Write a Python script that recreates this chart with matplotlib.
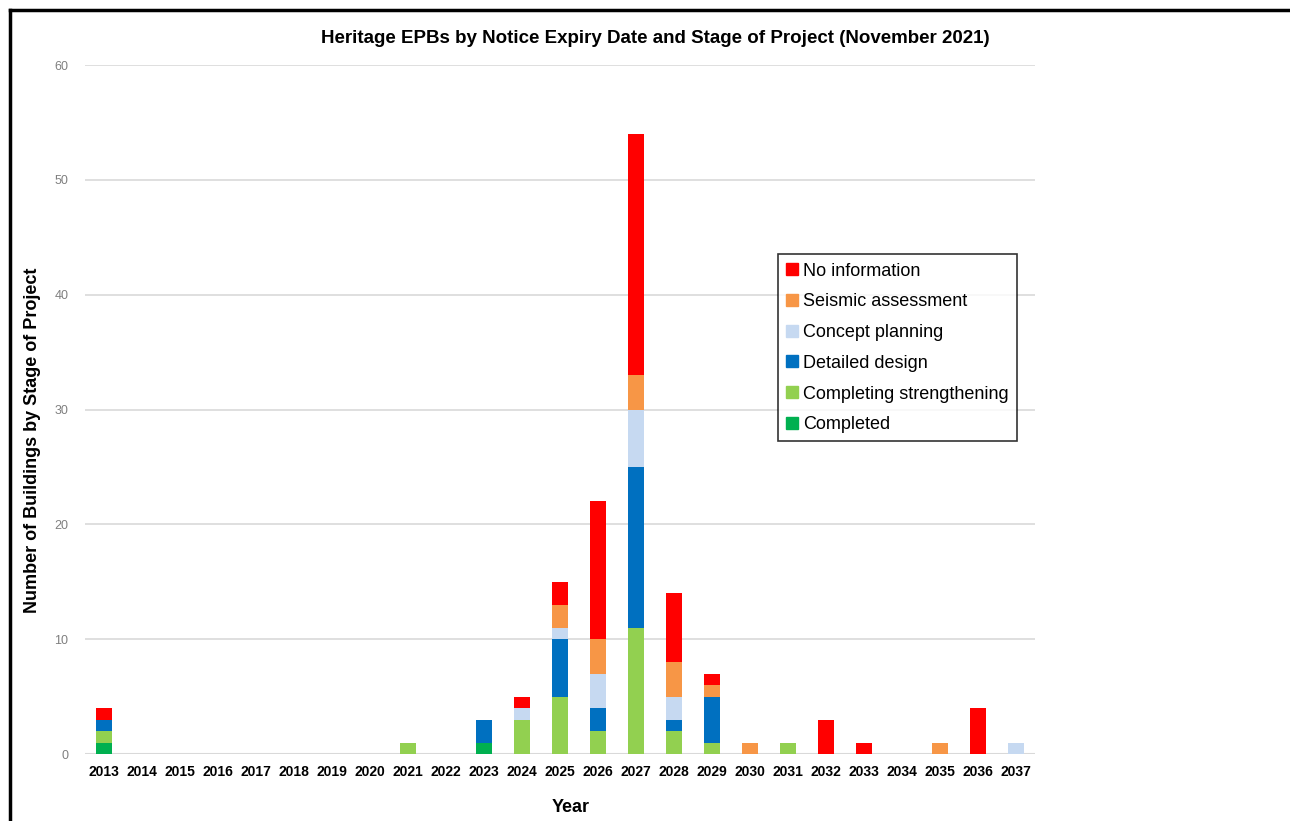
import numpy as np
import matplotlib
matplotlib.use("Agg")
import matplotlib.pyplot as plt
from matplotlib.lines import Line2D

plt.rcParams['font.family'] = ['Liberation Sans', 'DejaVu Sans']

# Data
years = [str(y) for y in range(2013, 2038)]
completed = [1, 0, 0, 0, 0, 0, 0, 0, 0, 0, 1, 0, 0, 0, 0, 0, 0, 0, 0, 0, 0, 0, 0, 0, 0]
completing = [1, 0, 0, 0, 0, 0, 0, 0, 1, 0, 0, 3, 5, 2, 11, 2, 1, 0, 1, 0, 0, 0, 0, 0, 0]
detailed = [1, 0, 0, 0, 0, 0, 0, 0, 0, 0, 2, 0, 5, 2, 14, 1, 4, 0, 0, 0, 0, 0, 0, 0, 0]
concept = [0, 0, 0, 0, 0, 0, 0, 0, 0, 0, 0, 1, 1, 3, 5, 2, 0, 0, 0, 0, 0, 0, 0, 0, 1]
seismic = [0, 0, 0, 0, 0, 0, 0, 0, 0, 0, 0, 0, 2, 3, 3, 3, 1, 1, 0, 0, 0, 0, 1, 0, 0]
no_info = [1, 0, 0, 0, 0, 0, 0, 0, 0, 0, 0, 1, 2, 12, 21, 6, 1, 0, 0, 3, 1, 0, 0, 4, 0]

series = [
    ("Completed", completed, "#00B050"),
    ("Completing strengthening", completing, "#92D050"),
    ("Detailed design", detailed, "#0070C0"),
    ("Concept planning", concept, "#C6D9F1"),
    ("Seismic assessment", seismic, "#F79646"),
    ("No information", no_info, "#FF0000"),
]

fig = plt.figure(figsize=(12.9, 8.21), dpi=100)
ax = fig.add_axes([0.0659, 0.0816, 0.7364, 0.8392])

x = np.arange(len(years))
bottom = np.zeros(len(years))
for name, vals, col in series:
    vals = np.array(vals)
    ax.bar(x, vals, bottom=bottom, width=0.42, color=col, label=name, zorder=3)
    bottom += vals

ax.set_xlim(-0.5, len(years) - 0.5)
ax.set_ylim(0, 60)
ax.set_yticks(range(0, 61, 10))
ax.set_xticks(x)
ax.set_xticklabels(years, fontsize=10, fontweight='bold')
ax.tick_params(axis='y', labelsize=9, colors='#7F7F7F', length=0, pad=12)
ax.tick_params(axis='x', length=0, pad=8)
ax.grid(axis='y', color='#D9D9D9', linewidth=1.2, zorder=0)
for s in ax.spines.values():
    s.set_visible(False)
ax.axhline(0, color='#D9D9D9', linewidth=1.5, zorder=1)

ax.set_title("Heritage EPBs by Notice Expiry Date and Stage of Project (November 2021)",
             fontsize=13.5, fontweight='bold', pad=16, x=0.6)
ax.set_xlabel("Year", fontsize=13, fontweight='bold')
ax.set_ylabel("Number of Buildings by Stage of Project", fontsize=13, fontweight='bold')
ax.xaxis.set_label_coords(0.511, -0.065)
ax.yaxis.set_label_coords(-0.046, 0.456)

handles = [Line2D([], [], marker='s', linestyle='none', markersize=8, color=c)
           for _, _, c in series[::-1]]
labels = [n for n, _, _ in series[::-1]]
leg = ax.legend(handles, labels, loc='upper left', bbox_to_anchor=(0.730, 0.725),
                fontsize=13, frameon=True, fancybox=False, edgecolor='black',
                handlelength=0.6, handletextpad=0.3, labelspacing=0.76,
                borderpad=0.45, borderaxespad=0)
leg.get_frame().set_linewidth(1.2)

# outer frame (top and left edges visible in the source)
fig.add_artist(Line2D([0.0078, 1.0], [0.9878, 0.9878], color='black', linewidth=2.5,
                      transform=fig.transFigure))
fig.add_artist(Line2D([0.0078, 0.0078], [0.0, 0.9878], color='black', linewidth=2.5,
                      transform=fig.transFigure))

fig.savefig("out.png", dpi=100)
